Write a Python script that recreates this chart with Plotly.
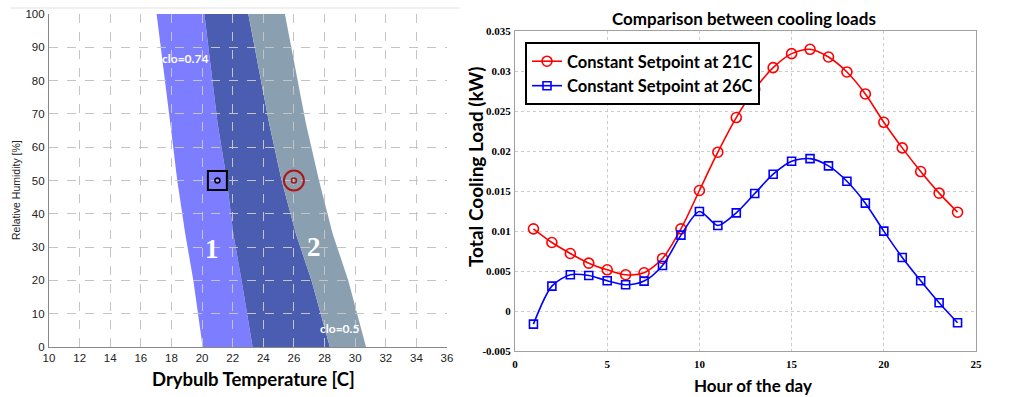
import plotly.graph_objects as go

# ---------------- Left chart data (comfort zones) ----------------
rh_levels = [0, 20, 34, 50, 67, 100]
zone1_left = [20.04, 19.43, 18.90, 18.38, 17.93, 17.03]   # clo=0.74 cool edge
zone2_left = [23.30, 22.58, 22.04, 21.62, 21.02, 20.15]   # clo=0.5 cool edge
zone1_right = [28.35, 27.15, 26.13, 25.20, 24.39, 23.02]  # clo=0.74 warm edge
zone2_right = [30.71, 29.55, 28.53, 27.64, 26.79, 25.41]  # clo=0.5 warm edge

setpoint_temps = [21, 26]
setpoint_rh = [50, 50]

# ---------------- Right chart data (cooling loads) ----------------
hours = list(range(1, 25))
load_21c = [0.01027, 0.00856, 0.00719, 0.00598, 0.00515, 0.00453, 0.00478, 0.00657,
            0.01027, 0.01506, 0.01985, 0.02418, 0.02771, 0.03042, 0.03217, 0.03271,
            0.03175, 0.02988, 0.02713, 0.02359, 0.02039, 0.01743, 0.01473, 0.01235]
load_26c = [-0.00164, 0.00311, 0.00453, 0.00444, 0.00378, 0.00328, 0.00374, 0.00569,
            0.00948, 0.01244, 0.01069, 0.01227, 0.01468, 0.01710, 0.01872, 0.01905,
            0.01814, 0.01622, 0.01348, 0.00998, 0.00669, 0.00378, 0.00103, -0.00147]
y_ticks = [-0.005, 0, 0.005, 0.01, 0.015, 0.02, 0.025, 0.03, 0.035]
y_tick_text = ['-0.005', '0', '0.005', '0.01', '0.015', '0.02', '0.025', '0.03', '0.035']

W, H = 1019, 397

def band_path(left, right, rh):
    pts = list(zip(left, rh)) + list(zip(right[::-1], rh[::-1]))
    return "M " + " L ".join(f"{x},{y}" for x, y in pts) + " Z"

fig = go.Figure()

# setpoint markers (left chart)
fig.add_trace(go.Scatter(x=[setpoint_temps[0]], y=[setpoint_rh[0]], mode='markers',
                         marker=dict(symbol='square-open', size=19, color='black',
                                     line=dict(width=2, color='black')),
                         showlegend=False, xaxis='x', yaxis='y', hoverinfo='skip'))
fig.add_trace(go.Scatter(x=[setpoint_temps[1]], y=[setpoint_rh[1]], mode='markers',
                         marker=dict(symbol='circle-open', size=20, color='#b01515',
                                     line=dict(width=2, color='#b01515')),
                         showlegend=False, xaxis='x', yaxis='y', hoverinfo='skip'))
fig.add_trace(go.Scatter(x=setpoint_temps, y=setpoint_rh, mode='markers',
                         marker=dict(symbol='circle-open', size=5, color=['black', '#b01515'],
                                     line=dict(width=1.5, color=['black', '#b01515'])),
                         showlegend=False, xaxis='x', yaxis='y', hoverinfo='skip'))

# cooling load lines (right chart)
fig.add_trace(go.Scatter(x=hours, y=load_21c, mode='lines+markers',
                         name='Constant Setpoint at 21C',
                         line=dict(color='#ff0000', width=1.6, shape='spline', smoothing=0.8),
                         marker=dict(symbol='circle-open', size=10, color='#ff0000',
                                     line=dict(width=1.6)),
                         xaxis='x2', yaxis='y2'))
fig.add_trace(go.Scatter(x=hours, y=load_26c, mode='lines+markers',
                         name='Constant Setpoint at 26C',
                         line=dict(color='#0000ff', width=1.6, shape='spline', smoothing=0.8),
                         marker=dict(symbol='square-open', size=8, color='#0000ff',
                                     line=dict(width=1.6)),
                         xaxis='x2', yaxis='y2'))

# comfort-zone bands drawn below the gridlines
shapes = [
    dict(type='path', path=band_path(zone1_left, zone2_left, rh_levels), xref='x', yref='y',
         fillcolor='#7d7dff', line=dict(width=0), layer='below'),
    dict(type='path', path=band_path(zone2_left, zone1_right, rh_levels), xref='x', yref='y',
         fillcolor='#4b5db0', line=dict(width=0), layer='below'),
    dict(type='path', path=band_path(zone1_right, zone2_right, rh_levels), xref='x', yref='y',
         fillcolor='#8aa0b1', line=dict(width=0), layer='below'),
    dict(type='line', xref='paper', yref='paper', x0=10 / W, x1=460 / W,
         y0=1 - 8 / H, y1=1 - 8 / H, line=dict(color='#e2e2e2', width=1)),
]

lato_b = 'Lato'
C = dict(xanchor='center', yanchor='middle', showarrow=False)
annotations = [
    dict(text='<b>clo=0.74</b>', x=18.88, y=86.6, xref='x', yref='y',
         font=dict(family=lato_b, size=12, color='white'), **C),
    dict(text='<b>clo=0.5</b>', x=28.99, y=5.7, xref='x', yref='y',
         font=dict(family=lato_b, size=12, color='white'), **C),
    dict(text='<b>1</b>', x=20.63, y=29.3, xref='x', yref='y',
         font=dict(family='Liberation Serif', size=27, color='white'), **C),
    dict(text='<b>2</b>', x=27.31, y=30.0, xref='x', yref='y',
         font=dict(family='Liberation Serif', size=27, color='white'), **C),
    dict(text='<b>Drybulb Temperature [C]</b>', x=253 / W, y=1 - 379 / H, xref='paper',
         yref='paper', font=dict(family=lato_b, size=18.5, color='black'), **C),
    dict(text='Relative Humidity [%]', x=16 / W, y=1 - 190 / H, xref='paper', yref='paper',
         textangle=-90, font=dict(family='Liberation Sans', size=10.5, color='#222'), **C),
    dict(text='<b>Comparison between cooling loads</b>', x=744 / W, y=1 - 19 / H,
         xref='paper', yref='paper', font=dict(family=lato_b, size=17, color='black'), **C),
    dict(text='<b>Hour of the day</b>', x=753 / W, y=1 - 385 / H, xref='paper', yref='paper',
         font=dict(family=lato_b, size=17, color='black'), **C),
    dict(text='<b>Total Cooling Load (kW)</b>', x=475 / W, y=1 - 167 / H, xref='paper',
         yref='paper', textangle=-90, font=dict(family=lato_b, size=19, color='black'), **C),
]

fig.update_layout(
    width=W, height=H, margin=dict(l=0, r=0, t=0, b=0, autoexpand=False),
    paper_bgcolor='white', plot_bgcolor='rgba(0,0,0,0)',
    shapes=shapes, annotations=annotations,
    xaxis=dict(domain=[49 / W, 447 / W], range=[10, 36], tickvals=list(range(10, 37, 2)),
               showgrid=True, gridcolor='#c4c4c4', griddash='dash', gridwidth=1,
               showline=True, linecolor='#888', linewidth=1.2, zeroline=False,
               ticks='', ticklabelstandoff=0, automargin=False,
               tickfont=dict(family='Liberation Sans', size=11.5, color='#222'),
               anchor='y'),
    yaxis=dict(domain=[1 - 347 / H, 1 - 14 / H], range=[0, 100], tickvals=list(range(0, 101, 10)),
               showgrid=True, gridcolor='#c4c4c4', griddash='dash', gridwidth=1,
               showline=True, linecolor='#888', linewidth=1.2, zeroline=False,
               ticks='', ticklabelstandoff=1, automargin=False,
               tickfont=dict(family='Liberation Sans', size=11.5, color='#222'),
               anchor='x'),
    xaxis2=dict(domain=[515 / W, 976 / W], range=[0, 25], tickvals=[0, 5, 10, 15, 20, 25],
                showgrid=True, gridcolor='#cccccc', griddash='dot', gridwidth=1,
                showline=True, mirror=True, linecolor='#a0a0a0', linewidth=1, zeroline=False,
                ticks='', ticklabelstandoff=3, automargin=False,
                tickfont=dict(family='Liberation Serif', size=11, color='black', weight='bold'),
                anchor='y2'),
    yaxis2=dict(domain=[1 - 351 / H, 1 - 31 / H], range=[-0.005, 0.035], tickvals=y_ticks,
                ticktext=y_tick_text,
                showgrid=True, gridcolor='#cccccc', griddash='dot', gridwidth=1,
                showline=True, mirror=True, linecolor='#a0a0a0', linewidth=1, zeroline=False,
                ticks='', ticklabelstandoff=1, automargin=False,
                tickfont=dict(family='Liberation Serif', size=11, color='black', weight='bold'),
                anchor='x2'),
    legend=dict(x=525 / W, y=1 - 42 / H, xanchor='left', yanchor='top',
                bgcolor='white', bordercolor='black', borderwidth=2,
                font=dict(family=lato_b, size=16.5, color='black', weight='bold'),
                itemwidth=30, tracegroupgap=0),
)

fig.write_html("out.html")
